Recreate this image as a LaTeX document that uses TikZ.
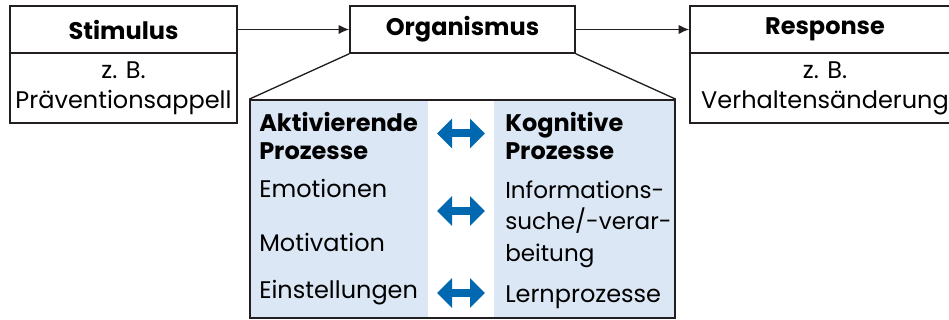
\documentclass[tikz,border=0pt]{standalone}
\usepackage{fontspec}
\setmainfont{Poppins}
\usetikzlibrary{arrows.meta}
\definecolor{pale}{RGB}{219,231,244}
\definecolor{arrblue}{RGB}{0,103,177}
\definecolor{ink}{RGB}{35,31,32}
\begin{document}
\begin{tikzpicture}[x=.75pt,y=-.75pt,>=Latex,font=\fontsize{18}{22.5}\selectfont,
 head/.style={draw=ink,line width=1.2pt,fill=white,minimum height=35.25pt,inner sep=0pt,font=\fontsize{18}{22.5}\selectfont\bfseries},
 body/.style={draw=ink,line width=1.2pt,fill=white,minimum height=52.5pt,inner sep=0pt,align=center},
 item/.style={anchor=west,inner sep=0pt,align=left},
 arr/.style={-{Latex[length=8pt,width=7pt]},draw=ink,line width=1pt},
 dbl/.style={{Triangle[length=11.25pt,width=21.75pt]}-{Triangle[length=11.25pt,width=21.75pt]},draw=arrblue,line width=6pt}]
\clip (0,0) rectangle (949,320);
\node[head,minimum width=170.25pt] (stim) at (123.5,29.5) {Stimulus};
\node[body,minimum width=170.25pt] (stimx) at (123.5,88) {z. B.\\Präventionsappell};
\node[head,minimum width=168.75pt] (org) at (462.5,29.5) {Organismus};
\node[head,minimum width=202.5pt] (resp) at (825,29.5) {Response};
\node[body,minimum width=202.5pt] (respx) at (825,88) {z. B.\\Verhaltensänderung};
\draw[arr] (stim.east)--(org.west);
\draw[arr] (org.east)--(resp.west);
% Organismus im Detail
\fill[pale] (250,100) rectangle (428,318);
\fill[pale] (494,100) rectangle (675,318);
\node[draw=ink,line width=1.2pt,minimum width=318.75pt,minimum height=163.5pt,inner sep=0pt] (inner) at (462.5,209) {};
\draw[draw=ink,line width=1pt] (org.south west)--(inner.north west);
\draw[draw=ink,line width=1pt] (org.south east)--(inner.north east);
\node[item,font=\fontsize{18}{21}\selectfont\bfseries] (akt) at (259,136) {Aktivierende\\Prozesse};
\node[item] (emo) at (259,188) {Emotionen};
\node[item] (mot) at (259,242) {Motivation};
\node[item] (ein) at (259,293) {Einstellungen};
\node[item,font=\fontsize{18}{21}\selectfont\bfseries] (kog) at (505,136) {Kognitive\\Prozesse};
\node[item,font=\fontsize{17.3}{23.5}\selectfont] (inf) at (505,224) {Informations-\\suche/-verar-\\beitung};
\node[item] (lern) at (505,297) {Lernprozesse};
\foreach \n/\y in {1/133.5,2/211,3/293}{
 \coordinate (l\n) at (437,\y);
 \coordinate (r\n) at (485,\y);
 \draw[dbl] (l\n)--(r\n);}
\end{tikzpicture}
\end{document}
